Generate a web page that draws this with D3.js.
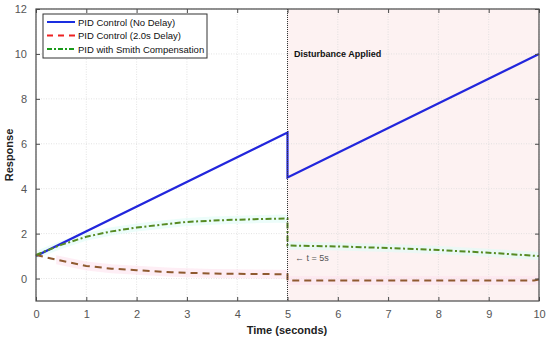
<!DOCTYPE html>
<html><head><meta charset="utf-8">
<script src="https://cdn.jsdelivr.net/npm/d3@7"></script>
<style>body{margin:0;background:#fff;} svg{display:block;font-family:"Liberation Sans",Arial,sans-serif;}</style>
</head><body>
<svg id="c" width="550" height="340"></svg>
<script>
const xTicks = [0,1,2,3,4,5,6,7,8,9,10];
const yTicks = [0,2,4,6,8,10,12];
const seriesNames = ["PID Control (No Delay)","PID Control (2.0s Delay)","PID with Smith Compensation"];
const blueT = [0,5,5,10];
const blueV = [1.0,6.5,4.5,10.0];
const redT = [0,0.4,1,1.5,2,2.7,3.5,4,5,5,9.9,10];
const redV = [1.05,0.84,0.56,0.44,0.37,0.28,0.22,0.21,0.19,-0.09,-0.09,-0.04];
const greenT = [0,0.5,1,1.5,2,2.5,3,3.5,4,4.5,5,5,6,7,8,9,10];
const greenV = [1.05,1.5,1.86,2.1,2.27,2.4,2.52,2.58,2.62,2.65,2.67,1.47,1.43,1.36,1.27,1.15,1.0];
const disturbanceT = 5;

(function(){
const svg = d3.select("#c");
const L=36,R=539,T=9,B=301;
const x = d3.scaleLinear().domain([0,10]).range([L,R]);
const y = d3.scaleLinear().domain([-1,12]).range([B,T]);

svg.append("rect").attr("x",x(disturbanceT)).attr("y",T).attr("width",x(10)-x(disturbanceT)).attr("height",B-T).attr("fill","#fdf2f2");

const g = svg.append("g");
g.selectAll(".gx").data(xTicks).join("line").attr("x1",d=>x(d)).attr("x2",d=>x(d)).attr("y1",T).attr("y2",B).attr("stroke","#dcdcdc").attr("stroke-width",0.8).attr("stroke-dasharray","1,1.5");
g.selectAll(".gy").data(yTicks).join("line").attr("y1",d=>y(d)).attr("y2",d=>y(d)).attr("x1",L).attr("x2",R).attr("stroke","#dcdcdc").attr("stroke-width",0.8).attr("stroke-dasharray","1,1.5");

const band = (T_,V_,color,w,from) => {
  const pts = T_.map((t,i)=>[t,V_[i]]).filter(p=>p[0]>=from);
  svg.append("path").datum(pts).attr("fill",color).attr("opacity",0.6)
   .attr("d",d3.area().x(d=>x(d[0])).y0(d=>y(d[1]-w)).y1(d=>y(d[1]+w)));
};
band(redT,redV,"#fde3ee",0.2,0.3);
band(greenT,greenV,"#e0fbf6",0.18,0);

const line = d3.line().x(d=>x(d[0])).y(d=>y(d[1]));
const mk = (T_,V_)=>T_.map((t,i)=>[t,V_[i]]);
svg.append("path").datum(mk(blueT,blueV)).attr("d",line).attr("fill","none").attr("stroke","#2226dc").attr("stroke-width",2.2);
svg.append("path").datum(mk(redT,redV)).attr("d",line).attr("fill","none").attr("stroke","#8f5a30").attr("stroke-width",2).attr("stroke-dasharray","7,5");
svg.append("path").datum(mk(greenT,greenV)).attr("d",line).attr("fill","none").attr("stroke","#568a22").attr("stroke-width",2).attr("stroke-dasharray","6,2.5,2,2.5");

svg.append("line").attr("x1",x(disturbanceT)).attr("x2",x(disturbanceT)).attr("y1",T).attr("y2",B).attr("stroke","#333").attr("stroke-width",1).attr("stroke-dasharray","1,1");

svg.append("rect").attr("x",L).attr("y",T).attr("width",R-L).attr("height",B-T).attr("fill","none").attr("stroke","#4a4a4a").attr("stroke-width",1.2);
const axB = d3.axisBottom(x).tickValues(xTicks).tickSizeInner(-4).tickSizeOuter(0).tickPadding(9);
const axL = d3.axisLeft(y).tickValues(yTicks).tickSizeInner(-4).tickSizeOuter(0).tickPadding(9);
const axT = d3.axisTop(x).tickValues(xTicks).tickSizeInner(-4).tickSizeOuter(0).tickFormat("");
const axR = d3.axisRight(y).tickValues(yTicks).tickSizeInner(-4).tickSizeOuter(0).tickFormat("");
[[axB,`translate(0,${B})`],[axL,`translate(${L},0)`],[axT,`translate(0,${T})`],[axR,`translate(${R},0)`]].forEach(([a,t])=>{
  const gg = svg.append("g").attr("transform",t).call(a);
  gg.select(".domain").remove();
  gg.selectAll("line").attr("stroke","#4a4a4a");
  gg.selectAll("text").attr("fill","#555").attr("font-size",11).attr("font-family","Liberation Sans, Arial, sans-serif");
});

svg.append("text").attr("x",287).attr("y",334).attr("text-anchor","middle").attr("font-size",11).attr("font-weight","bold").attr("fill","#222").text("Time (seconds)");
svg.append("text").attr("transform","translate(13,155) rotate(-90)").attr("text-anchor","middle").attr("font-size",11).attr("font-weight","bold").attr("fill","#222").text("Response");

svg.append("text").attr("x",294).attr("y",57).attr("font-size",9).attr("font-weight","bold").attr("fill","#111").text("Disturbance Applied");
svg.append("text").attr("x",295).attr("y",261).attr("font-size",9).attr("fill","#555").text("\u2190 t = 5s");

const lg = svg.append("g");
lg.append("rect").attr("x",43).attr("y",14).attr("width",164).attr("height",44).attr("fill","#fff").attr("stroke","#333").attr("stroke-width",1);
const legStyles = [{c:"#1a2ee0",d:null},{c:"#ee2222",d:"6,5"},{c:"#1a9a1a",d:"5,2,2,2"}];
seriesNames.forEach((n,i)=>{
  const yy = 22+i*13.5;
  lg.append("line").attr("x1",47).attr("x2",75).attr("y1",yy).attr("y2",yy).attr("stroke",legStyles[i].c).attr("stroke-width",2).attr("stroke-dasharray",legStyles[i].d);
  lg.append("text").attr("x",78).attr("y",yy+3.5).attr("font-size",9.5).attr("fill","#111").text(n);
});
})();
</script>
</body></html>
